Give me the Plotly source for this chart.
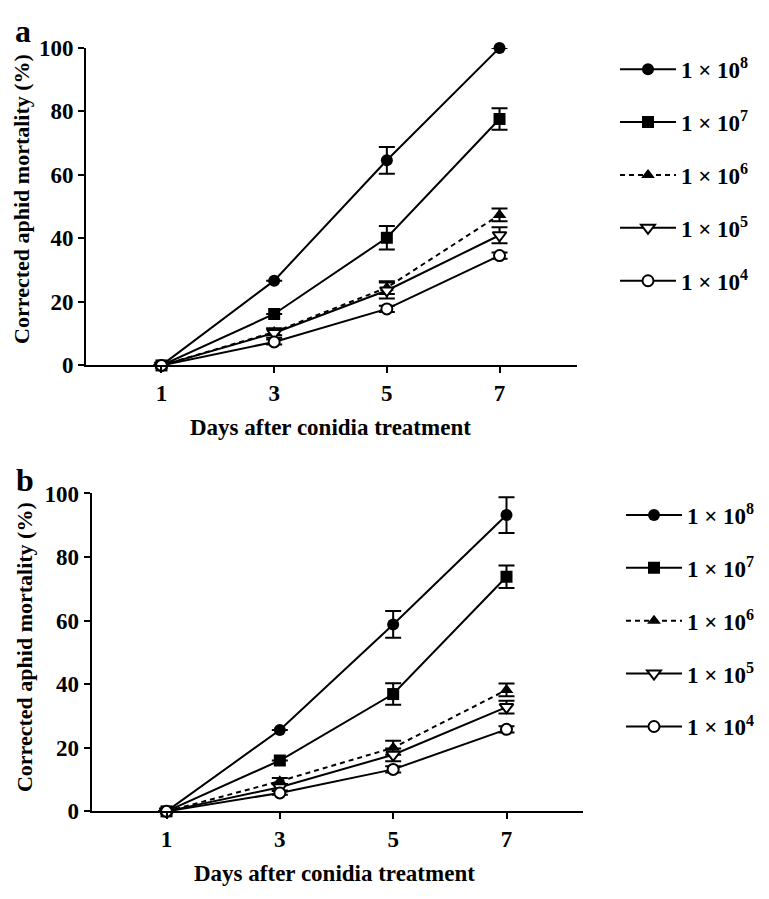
import plotly.graph_objects as go

W, H = 769, 899
OFF = 8  # page body margin of the browser

days = [1, 3, 5, 7]
series_names = ["1 × 10<sup>8</sup>", "1 × 10<sup>7</sup>", "1 × 10<sup>6</sup>",
                "1 × 10<sup>5</sup>", "1 × 10<sup>4</sup>"]

# Panel a: corrected mortality (%) and error
a_1e8 = [0, 26.7, 64.6, 100]
a_1e8_err = [0, 0, 4.2, 0]
a_1e7 = [0, 16.2, 40.2, 77.6]
a_1e7_err = [0, 0, 3.7, 3.4]
a_1e6 = [0, 10.5, 24.5, 47.4]
a_1e6_err = [0, 1.0, 2.0, 2.0]
a_1e5 = [0, 10.2, 23.6, 41.0]
a_1e5_err = [0, 1.5, 2.5, 2.5]
a_1e4 = [0, 7.4, 17.8, 34.6]
a_1e4_err = [0, 0.8, 1.0, 1.0]

# Panel b
b_1e8 = [0, 25.6, 58.8, 93.2]
b_1e8_err = [0, 0, 4.2, 5.6]
b_1e7 = [0, 16.0, 36.9, 73.8]
b_1e7_err = [0, 0, 3.4, 3.5]
b_1e6 = [0, 9.5, 20.0, 38.2]
b_1e6_err = [0, 1.0, 2.2, 2.0]
b_1e5 = [0, 7.6, 17.8, 32.8]
b_1e5_err = [0, 1.0, 2.0, 2.0]
b_1e4 = [0, 5.8, 13.2, 25.8]
b_1e4_err = [0, 0.6, 1.0, 1.0]

x_ticks = [1, 3, 5, 7]
y_ticks = [0, 20, 40, 60, 80, 100]
x_title = "Days after conidia treatment"
y_title = "Corrected aphid mortality (%)"

FONT = "Liberation Serif"
FS = 23
styles = [
    dict(symbol="circle", size=12, color="black", line=dict(color="black", width=0), dash="solid"),
    dict(symbol="square", size=12, color="black", line=dict(color="black", width=0), dash="solid"),
    dict(symbol="triangle-up", size=12, color="black", line=dict(color="black", width=0), dash="5px,4px"),
    dict(symbol="triangle-down", size=12, color="white", line=dict(color="black", width=2), dash="solid"),
    dict(symbol="circle", size=11, color="white", line=dict(color="black", width=2), dash="solid"),
]

fig = go.Figure()

panels = [
    ("x", "y", "legend", [a_1e8, a_1e7, a_1e6, a_1e5, a_1e4],
     [a_1e8_err, a_1e7_err, a_1e6_err, a_1e5_err, a_1e4_err]),
    ("x2", "y2", "legend2", [b_1e8, b_1e7, b_1e6, b_1e5, b_1e4],
     [b_1e8_err, b_1e7_err, b_1e6_err, b_1e5_err, b_1e4_err]),
]

for xa, ya, leg, vals, errs in panels:
    for i, (name, v, e) in enumerate(zip(series_names, vals, errs)):
        st = styles[i]
        fig.add_trace(go.Scatter(
            x=days, y=v, xaxis=xa, yaxis=ya, name=f"<b>{name}</b>", legend=leg,
            legendgroup=f"{leg}_{i}",
            mode="lines+markers", cliponaxis=False,
            line=dict(color="black", width=2, dash=st["dash"]),
            marker=dict(symbol=st["symbol"], size=st["size"], color=st["color"],
                        line=st["line"]),
            error_y=dict(type="data", array=e, visible=True, color="black",
                         thickness=2, width=8),
        ))

def px_x(p):
    return (p - OFF) / W

def px_y(p):
    return 1 - (p - OFF) / H

tick_font = dict(family=FONT, size=FS, color="black")
axis_common = dict(showline=True, linecolor="black", linewidth=2, ticks="outside",
                   ticklen=6, tickwidth=2, tickcolor="black", showgrid=False,
                   zeroline=False, tickfont=tick_font)
xt = dict(tickvals=x_ticks, ticktext=[f"<b>{v}</b>" for v in x_ticks])
yt = dict(tickvals=y_ticks, ticktext=[f"<b>{v}</b>" for v in y_ticks])

legend_font = dict(family=FONT, size=FS, color="black")
fig.update_layout(
    width=W, height=H, margin=dict(l=0, r=0, t=0, b=0),
    paper_bgcolor="white", plot_bgcolor="white",
    xaxis=dict(domain=[px_x(86), px_x(576.7)], range=[-0.34, 8.37],
               anchor="y", **xt, **axis_common),
    yaxis=dict(domain=[px_y(363.3), px_y(36.7)], range=[0, 100],
               anchor="x", **yt, **axis_common),
    xaxis2=dict(domain=[px_x(91.7), px_x(583)], range=[-0.32, 8.35],
                anchor="y2", **xt, **axis_common),
    yaxis2=dict(domain=[px_y(822), px_y(495)], range=[0, 100],
                anchor="x2", **yt, **axis_common),
    legend=dict(x=607 / W, y=1 - 28.5 / H, xanchor="left", yanchor="top",
                font=legend_font, itemwidth=56,
                tracegroupgap=20, bgcolor="rgba(0,0,0,0)"),
    legend2=dict(x=613 / W, y=1 - 487 / H, xanchor="left", yanchor="top",
                 font=legend_font, itemwidth=56,
                 tracegroupgap=20, bgcolor="rgba(0,0,0,0)"),
    showlegend=True,
)

ann_font = dict(family=FONT, size=FS, color="black")
ytitle_font = dict(family=FONT, size=22, color="black")
annotations = [
    dict(text=f"<b>{x_title}</b>", x=px_x(330), y=px_y(427.5), xref="paper", yref="paper",
         xanchor="center", yanchor="middle", showarrow=False, font=ann_font),
    dict(text=f"<b>{x_title}</b>", x=px_x(334), y=px_y(886), xref="paper", yref="paper",
         xanchor="center", yanchor="middle", showarrow=False, font=ann_font),
    dict(text=f"<b>{y_title}</b>", x=px_x(22), y=px_y(192), xref="paper", yref="paper",
         xanchor="center", yanchor="middle", textangle=-90, showarrow=False, font=ytitle_font),
    dict(text=f"<b>{y_title}</b>", x=px_x(24), y=px_y(653), xref="paper", yref="paper",
         xanchor="center", yanchor="middle", textangle=-90, showarrow=False, font=ytitle_font),
    dict(text="<b>a</b>", x=px_x(23), y=1 - 11 / H, xref="paper", yref="paper",
         xanchor="center", yanchor="middle", showarrow=False,
         font=dict(family=FONT, size=32, color="black")),
    dict(text="<b>b</b>", x=px_x(25), y=1 - 473 / H, xref="paper", yref="paper",
         xanchor="center", yanchor="middle", showarrow=False,
         font=dict(family=FONT, size=32, color="black")),
]
fig.update_layout(annotations=annotations)

fig.write_html("out.html")
